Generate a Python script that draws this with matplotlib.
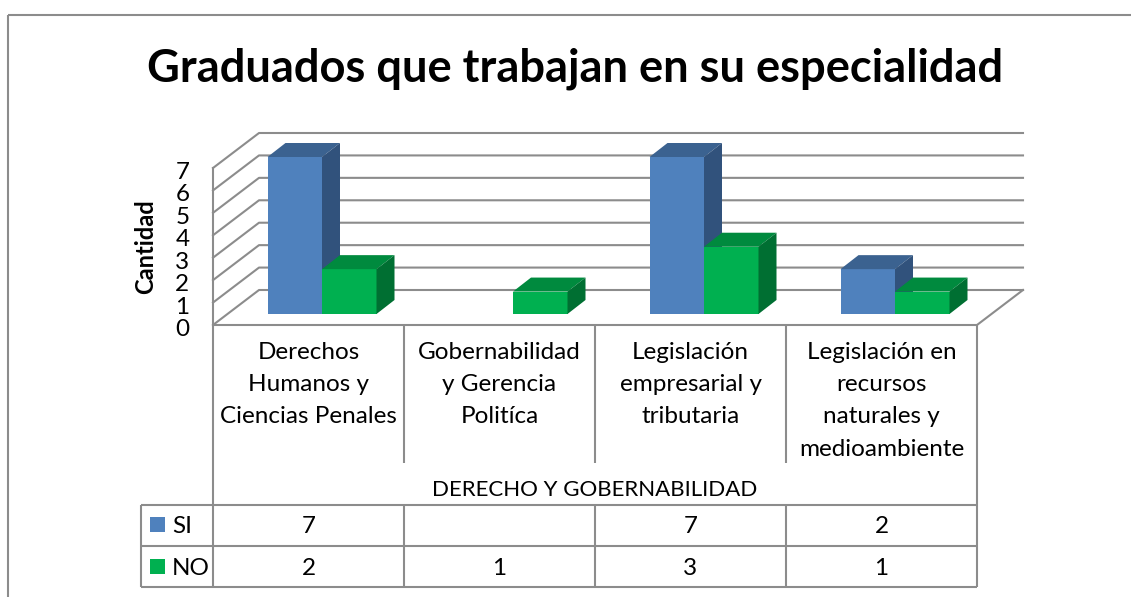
import matplotlib
matplotlib.use('Agg')
import matplotlib.pyplot as plt
from matplotlib.patches import Rectangle
from matplotlib.transforms import ScaledTranslation

plt.rcParams['font.family'] = ['Lato', 'DejaVu Sans']

W, H = 1131, 597

title = "Graduados que trabajan en su especialidad"
categories = ["Derechos\nHumanos y\nCiencias Penales",
              "Gobernabilidad\ny Gerencia\nPolitíca",
              "Legislación\nempresarial y\ntributaria",
              "Legislación en\nrecursos\nnaturales y\nmedioambiente"]
group_label = "DERECHO Y GOBERNABILIDAD"
y_label = "Cantidad"
si_values = [7, None, 7, 2]
no_values = [2, 1, 3, 1]
y_ticks = [0, 1, 2, 3, 4, 5, 6, 7]

GRID = '#8c8c8c'
BLUE = ('#4f81bd', '#3b6290', '#31527c')
GREEN = ('#00b050', '#008a3e', '#006f32')
FS = 17.5

# front plane of the chart, in pixels
LEFT, RIGHT, FLOOR, TOP = 213, 977, 325, 168
CELL = (RIGHT - LEFT) / 4
UNIT = (FLOOR - TOP) / 7


def px_x(p):
    return p / CELL


def px_y(p):
    return p / UNIT


def draw_bar(ax, x, value, colors, width):
    # front face sits a bit inside the floor, side and top give the depth
    x0 = x + px_x(13.5)
    y0 = px_y(11)
    dx, dy = px_x(18), px_y(14)
    top = y0 + value
    ax.bar(x0, value, width, bottom=y0, align='edge', color=colors[0], zorder=3, clip_on=False)
    ax.fill([x0, x0 + dx, x0 + width + dx, x0 + width],
            [top, top + dy, top + dy, top], color=colors[1], lw=0, zorder=3, clip_on=False)
    ax.fill([x0 + width, x0 + width + dx, x0 + width + dx, x0 + width],
            [y0, y0 + dy, top + dy, top], color=colors[2], lw=0, zorder=3, clip_on=False)


fig = plt.figure(figsize=(W / 100, H / 100), dpi=100)

# background layer in pixel coordinates: frame, table, texts
bg = fig.add_axes([0, 0, 1, 1])
bg.set_xlim(0, W)
bg.set_ylim(H, 0)
bg.axis('off')


def line(xs, ys):
    bg.plot(xs, ys, color=GRID, lw=1.5, solid_capstyle='butt')


line([8, W], [15, 15])
line([8, 8], [15, H])
line([LEFT, RIGHT], [FLOOR, FLOOR])
line([LEFT, LEFT], [FLOOR, 587])
line([RIGHT, RIGHT], [FLOOR, 587])
for i in range(1, 4):
    x = LEFT + i * CELL
    line([x, x], [FLOOR, 463])
    line([x, x], [505, 587])
for y in (505, 546, 587):
    line([141, RIGHT], [y, y])
line([141, 141], [505, 587])

bg.text(575.5, 69, title, fontsize=32.6, fontweight='bold', ha='center', va='center', color='black')
bg.text((LEFT + RIGHT) / 2, 490.5, group_label, fontsize=16, ha='center', va='center')

for row, (name, values, colors) in enumerate([("SI", si_values, BLUE), ("NO", no_values, GREEN)]):
    yc = 525 + row * 42
    bg.add_patch(Rectangle((150, yc - 8), 15, 15, color=colors[0], lw=0))
    bg.text(172, yc + 1.5, name, fontsize=FS, ha='left', va='center')
    for i, v in enumerate(values):
        if v is not None:
            bg.text(LEFT + (i + 0.5) * CELL, yc + 1.5, str(v), fontsize=FS, ha='center', va='center')

# chart layer: x in categories, y in values
ax = fig.add_axes([LEFT / W, 1 - FLOOR / H, (RIGHT - LEFT) / W, (FLOOR - TOP) / H])
ax.patch.set_alpha(0)
ax.set_xlim(0, 4)
ax.set_ylim(0, 7)
for s in ax.spines.values():
    s.set_visible(False)

back_dx, back_dy = px_x(46), px_y(35)
for v in y_ticks:
    ax.plot([0, back_dx, 4 + back_dx], [v, v + back_dy, v + back_dy], color=GRID, lw=1.5,
            clip_on=False, zorder=1)
ax.plot([0, 0], [0, 7], color=GRID, lw=1.5, clip_on=False, zorder=1)
ax.plot([4, 4 + back_dx], [0, back_dy], color=GRID, lw=1.5, clip_on=False, zorder=1)

bar_w = px_x(54.5)
for i in range(4):
    if si_values[i] is not None:
        draw_bar(ax, i + 0.5 - bar_w, si_values[i], BLUE, bar_w)
    draw_bar(ax, i + 0.5, no_values[i], GREEN, bar_w)

ax.set_yticks(y_ticks)
ax.set_yticklabels([str(v) for v in y_ticks], fontsize=FS)
ax.tick_params(axis='y', length=0, pad=17)
# digits sit a little under their grid lines in the original
shift = ScaledTranslation(0, -2.5 / 100, fig.dpi_scale_trans)
for lab in ax.get_yticklabels():
    lab.set_transform(lab.get_transform() + shift)
ax.set_xticks([i + 0.5 for i in range(4)])
ax.set_xticklabels(categories, fontsize=FS, linespacing=1.67, va='top')
ax.tick_params(axis='x', length=0, pad=12)
ax.set_ylabel(y_label, fontsize=17, fontweight='bold', va='center')
ax.yaxis.set_label_coords((146 - LEFT) / (RIGHT - LEFT), 0.5)

fig.savefig('out.png', dpi=100)
